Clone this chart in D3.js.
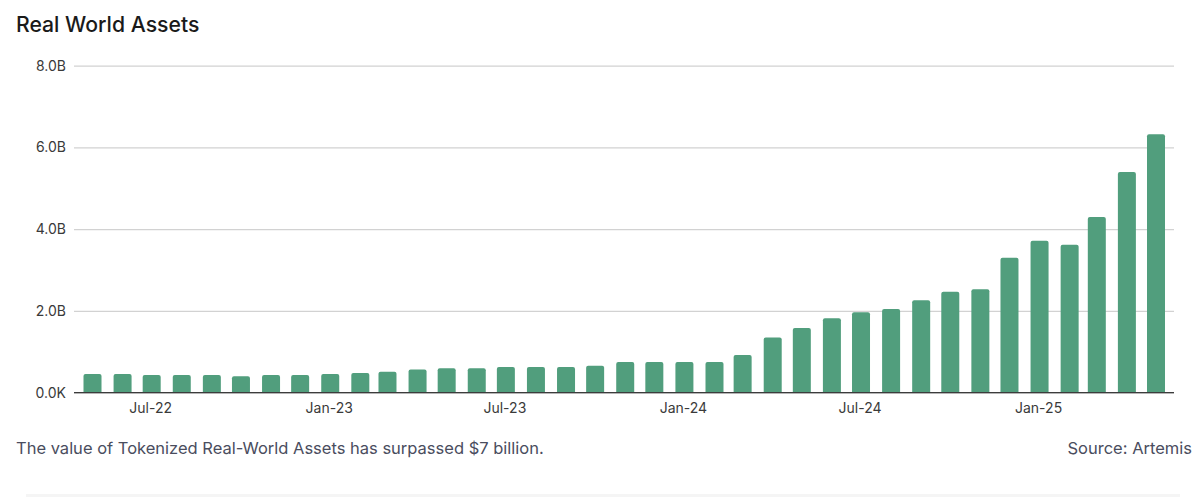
<!DOCTYPE html>
<html>
<head>
<meta charset="utf-8">
<script src="https://cdn.jsdelivr.net/npm/d3@7"></script>
<style>
html, body { margin: 0; padding: 0; background: #fff; overflow: hidden; }
text { font-family: Inter, "Noto Sans", sans-serif; }
</style>
</head>
<body>
<script>
var months = [
	"2022-05", "2022-06", "2022-07", "2022-08", "2022-09", "2022-10", "2022-11", "2022-12",
	"2023-01", "2023-02", "2023-03", "2023-04", "2023-05", "2023-06", "2023-07", "2023-08",
	"2023-09", "2023-10", "2023-11", "2023-12", "2024-01", "2024-02", "2024-03", "2024-04",
	"2024-05", "2024-06", "2024-07", "2024-08", "2024-09", "2024-10", "2024-11", "2024-12",
	"2025-01", "2025-02", "2025-03", "2025-04", "2025-05"];
var rwaValues = [ //billions of dollars
	0.46, 0.46, 0.43, 0.43, 0.43, 0.40, 0.43, 0.43,
	0.46, 0.48, 0.51, 0.57, 0.60, 0.60, 0.63, 0.63,
	0.63, 0.66, 0.75, 0.75, 0.75, 0.75, 0.92, 1.35,
	1.58, 1.82, 1.97, 2.05, 2.26, 2.47, 2.53, 3.30,
	3.72, 3.62, 4.30, 5.40, 6.32];
var yTicks = [0, 2, 4, 6, 8];
var yTickLabels = ["0.0K", "2.0B", "4.0B", "6.0B", "8.0B"];
var xTicks = ["2022-07", "2023-01", "2023-07", "2024-01", "2024-07", "2025-01"];
var xTickLabels = ["Jul-22", "Jan-23", "Jul-23", "Jan-24", "Jul-24", "Jan-25"];

var parseMonth = d3.utcParse("%Y-%m");
var barWidth = 18;

var svg = d3.select("body").append("svg")
	.attr("width", 1200)
	.attr("height", 497);

var x = d3.scaleUtc() //time scale, months are not all the same width
	.domain([parseMonth(months[0]), parseMonth(months[months.length - 1])])
	.range([92.5, 1156]);

var y = d3.scaleLinear()
	.domain([0, 8])
	.range([392.7, 65.7]);

svg.append("text")
	.attr("x", 16)
	.attr("y", 32)
	.attr("font-size", 21.2)
	.attr("font-weight", 450)
	.attr("fill", "#1a1a1a")
	.text("Real World Assets");

// y axis with gridlines
var yAxis = svg.append("g")
	.attr("transform", "translate(74,0)")
	.call(d3.axisLeft(y)
		.tickValues(yTicks)
		.tickSize(-1100)
		.tickPadding(8)
		.tickFormat(function (d, i) {return yTickLabels[i];}));
yAxis.select(".domain").remove();
yAxis.selectAll("line")
	.attr("stroke", "#d2d2d2")
	.attr("stroke-width", 1.2);
yAxis.selectAll("text")
	.attr("font-size", 14)
	.attr("fill", "#3a3a3a")
	.style("font-family", "Inter, sans-serif");

// bars, rounded on top only
svg.selectAll("path.bar")
	.data(rwaValues)
	.enter()
	.append("path")
	.attr("class", "bar")
	.attr("fill", "#519e7d")
	.attr("d", function (d, i) {
		var left = x(parseMonth(months[i])) - barWidth / 2;
		var top = y(d);
		var p = d3.path();
		p.moveTo(left, y(0));
		p.lineTo(left, top + 2);
		p.quadraticCurveTo(left, top, left + 2, top);
		p.lineTo(left + barWidth - 2, top);
		p.quadraticCurveTo(left + barWidth, top, left + barWidth, top + 2);
		p.lineTo(left + barWidth, y(0));
		p.closePath();
		return p.toString();
	});

// baseline drawn over the bars
svg.append("line")
	.attr("x1", 74)
	.attr("x2", 1174)
	.attr("y1", y(0))
	.attr("y2", y(0))
	.attr("stroke", "#3c3c3c")
	.attr("stroke-width", 1.2);

var xAxis = svg.append("g")
	.attr("transform", "translate(-1.5," + y(0) + ")")
	.call(d3.axisBottom(x)
		.tickValues(xTicks.map(parseMonth))
		.tickSize(0)
		.tickPadding(10)
		.tickFormat(function (d, i) {return xTickLabels[i];}));
xAxis.select(".domain").remove();
xAxis.selectAll("text")
	.attr("font-size", 14)
	.attr("fill", "#3a3a3a")
	.style("font-family", "Inter, sans-serif");

svg.append("text")
	.attr("x", 16)
	.attr("y", 453.5)
	.attr("font-size", 16.5)
	.attr("fill", "#4a4d5e")
	.text("The value of Tokenized Real-World Assets has surpassed $7 billion.");

svg.append("text")
	.attr("x", 1192)
	.attr("y", 453.5)
	.attr("text-anchor", "end")
	.attr("font-size", 16.5)
	.attr("fill", "#4a4d5e")
	.text("Source: Artemis");

svg.append("rect") //faint band along the bottom edge
	.attr("x", 26)
	.attr("y", 494)
	.attr("width", 1154)
	.attr("height", 3)
	.attr("fill", "#f5f5f5");
</script>
</body>
</html>
